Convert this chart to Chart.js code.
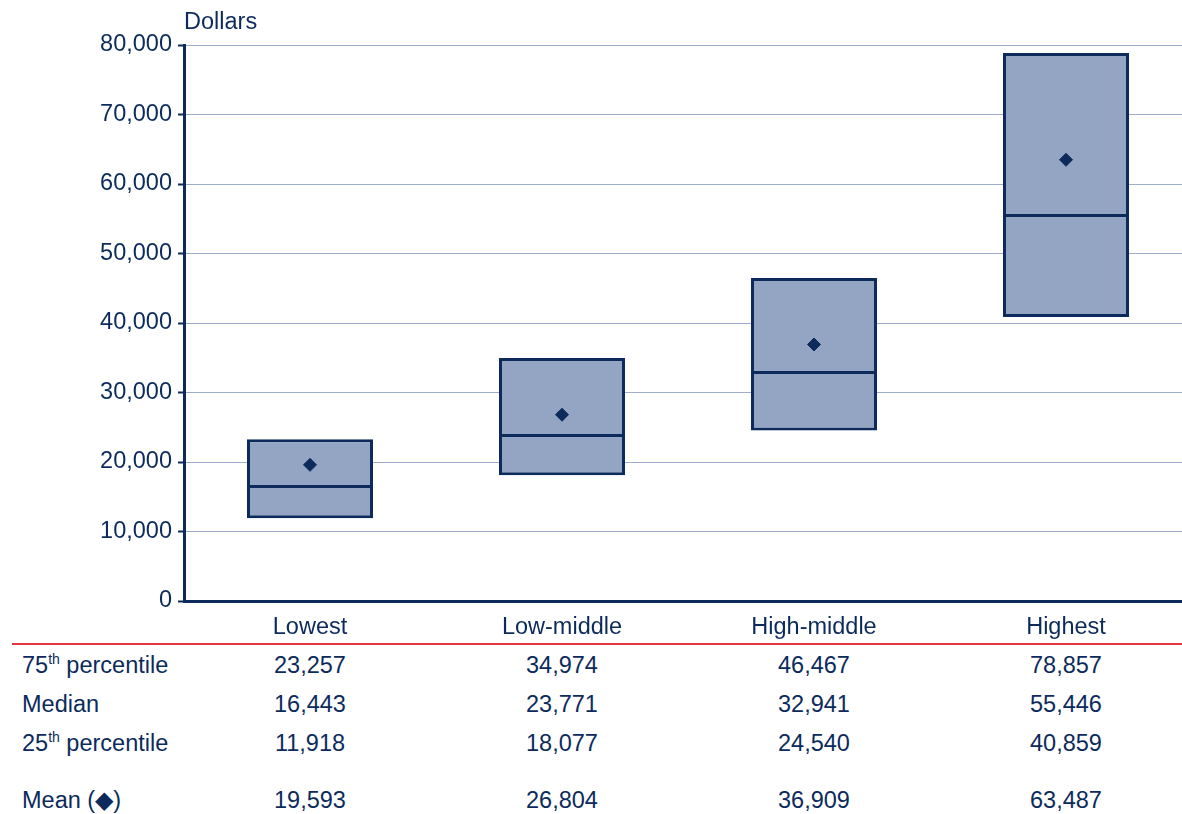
<!DOCTYPE html>
<html>
<head>
<meta charset="utf-8">
<script src="https://cdn.jsdelivr.net/npm/chart.js@4"></script>
<style>
  html, body { margin: 0; padding: 0; background: #fff; overflow: hidden; }
  body { width: 1182px; height: 814px; position: relative; font-family: "Liberation Sans", Arial, sans-serif; color: #0c2b5c; }
  #wrap { position: absolute; left: 0; top: 0; width: 1200px; height: 645px; }
  #ytitle { position: absolute; left: 184px; top: 8px; font-size: 23.5px; }
  #redline { position: absolute; left: 12px; top: 643px; width: 1170px; height: 2px; background: #e8343f; }
  .cell { position: absolute; font-size: 23.5px; white-space: nowrap; line-height: 26px; }
  .cell sup { font-size: 14px; vertical-align: 0; position: relative; top: -9px; }
</style>
</head>
<body>
<div id="wrap"><canvas id="chart" width="1200" height="645"></canvas></div>
<div id="ytitle">Dollars</div>
<div id="redline"></div>
<div id="table"></div>

<script>
// chart data
const categories = ['Lowest', 'Low-middle', 'High-middle', 'Highest'];
const p75 = [23257, 34974, 46467, 78857];
const median = [16443, 23771, 32941, 55446];
const p25 = [11918, 18077, 24540, 40859];
const mean = [19593, 26804, 36909, 63487];
const yTicks = [0, 10000, 20000, 30000, 40000, 50000, 60000, 70000, 80000];

const navy = '#0c2b5c';
const fmt = v => v.toLocaleString('en-US');
const FONT = { family: '"Liberation Sans", Arial', size: 23.5 };

// median marker: a horizontal bar as wide as the box
const medianMark = document.createElement('canvas');
medianMark.width = 126;
medianMark.height = 3;
const mctx = medianMark.getContext('2d');
mctx.fillStyle = navy;
mctx.fillRect(0, 0, 126, 3);

const ctx = document.getElementById('chart');
const chart = new Chart(ctx, {
    type: 'bar',
    data: {
        labels: categories,
        datasets: [
            {
                label: 'Mean',
                type: 'line',
                data: mean,
                showLine: false,
                pointStyle: 'rectRot',
                pointRadius: 6.5,
                pointBackgroundColor: navy,
                pointBorderColor: navy,
                pointBorderWidth: 1,
                order: 0
            },
            {
                label: 'Median',
                type: 'line',
                data: median,
                showLine: false,
                pointStyle: medianMark,
                pointRadius: 2,
                order: 1
            },
            {
                label: 'Interquartile range',
                data: p25.map((v, i) => [v, p75[i]]),
                backgroundColor: '#93a5c3',
                borderColor: navy,
                borderWidth: 3,
                borderSkipped: false,
                barPercentage: 0.5,
                categoryPercentage: 1,
                order: 2
            }
        ]
    },
    options: {
        responsive: false,
        animation: false,
        events: [],
        layout: { padding: { top: 45, left: 0, right: 8, bottom: 0 } },
        plugins: {
            legend: { display: false },
            tooltip: { enabled: false }
        },
        scales: {
            x: {
                grid: { display: false },
                border: { color: navy, width: 3 },
                ticks: {
                    color: navy,
                    font: FONT,
                    padding: 4,
                    maxRotation: 0
                },
                afterFit: s => { s.height = 44; }
            },
            y: {
                min: 0,
                max: 80000,
                afterBuildTicks: s => { s.ticks = yTicks.map(v => ({ value: v })); },
                grid: { color: '#9eabc9', lineWidth: 1, tickColor: navy, tickLength: 6, tickWidth: 2 },
                border: { color: navy, width: 3 },
                ticks: {
                    color: navy,
                    font: FONT,
                    padding: 6,
                    callback: v => fmt(v)
                },
                afterFit: s => { s.width = 184; }
            }
        }
    }
});

// table below the chart, columns aligned to the category scale
const rows = [
    { label: '75<sup>th</sup> percentile', values: p75, top: 652 },
    { label: 'Median', values: median, top: 691 },
    { label: '25<sup>th</sup> percentile', values: p25, top: 730 },
    { label: 'Mean (\u25C6)', values: mean, top: 787 }
];
const table = document.getElementById('table');
const xs = chart.scales.x;
rows.forEach(row => {
    const lab = document.createElement('div');
    lab.className = 'cell';
    lab.style.left = '22px';
    lab.style.top = row.top + 'px';
    lab.innerHTML = row.label;
    table.appendChild(lab);
    row.values.forEach((v, i) => {
        const c = document.createElement('div');
        c.className = 'cell';
        c.style.left = xs.getPixelForValue(i) + 'px';
        c.style.top = row.top + 'px';
        c.style.transform = 'translateX(-50%)';
        c.textContent = fmt(v);
        table.appendChild(c);
    });
});
</script>
</body>
</html>
